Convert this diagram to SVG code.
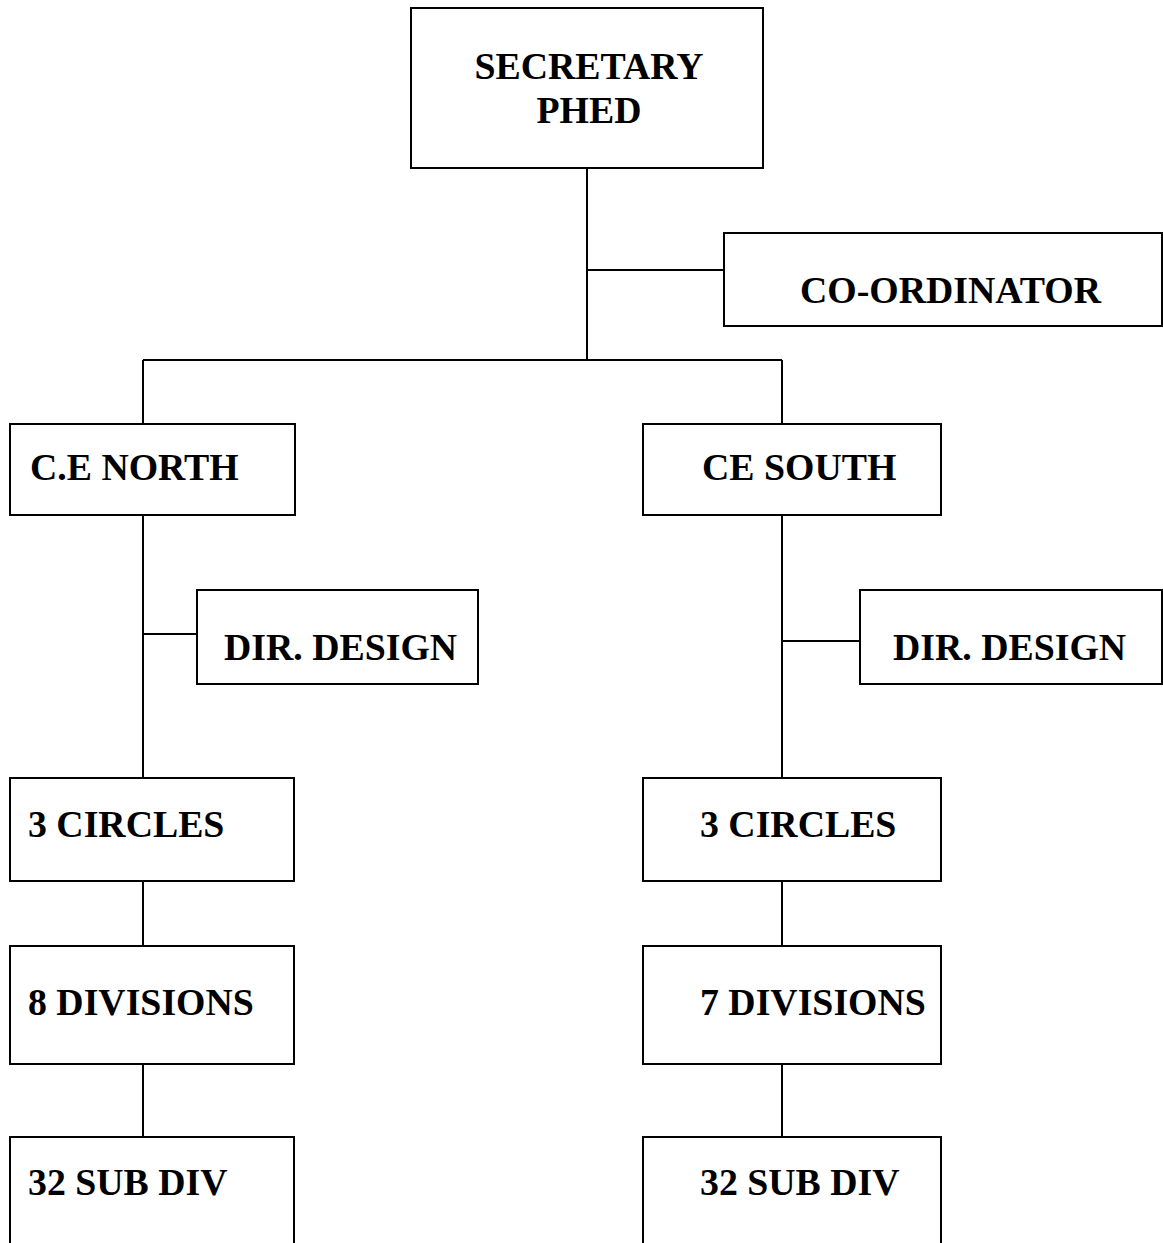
<svg xmlns="http://www.w3.org/2000/svg" width="1163" height="1243" viewBox="0 0 1163 1243">
  <style>
    .box { fill: #ffffff; stroke: #000000; stroke-width: 2; }
    .link { fill: none; stroke: #000000; stroke-width: 2; }
    .label { font-family: "Liberation Serif", "Times New Roman", serif; font-weight: bold; font-size: 37.8px; fill: #000000; }
  </style>
  <rect width="1163" height="1243" fill="#ffffff"/>

  <g id="connectors">
    <path class="link" d="M587 168 V360"/>
    <path class="link" d="M587 270 H724"/>
    <path class="link" d="M143 360 H782"/>
    <path class="link" d="M143 360 V424"/>
    <path class="link" d="M782 360 V424"/>
    <path class="link" d="M143 515 V778"/>
    <path class="link" d="M143 634 H197"/>
    <path class="link" d="M782 515 V778"/>
    <path class="link" d="M782 641 H860"/>
    <path class="link" d="M143 881 V946"/>
    <path class="link" d="M782 881 V946"/>
    <path class="link" d="M143 1064 V1137"/>
    <path class="link" d="M782 1064 V1137"/>
  </g>

  <g id="secretary">
    <rect class="box" x="411" y="8" width="352" height="160"/>
    <text class="label" x="589" y="79" text-anchor="middle">SECRETARY</text>
    <text class="label" x="589" y="123" text-anchor="middle">PHED</text>
  </g>

  <g id="coordinator">
    <rect class="box" x="724" y="233" width="438" height="93"/>
    <text class="label" x="800" y="303">CO-ORDINATOR</text>
  </g>

  <g id="ce-north">
    <rect class="box" x="10" y="424" width="285" height="91"/>
    <text class="label" x="30" y="480">C.E NORTH</text>
  </g>

  <g id="ce-south">
    <rect class="box" x="643" y="424" width="298" height="91"/>
    <text class="label" x="702" y="480">CE SOUTH</text>
  </g>

  <g id="dir-design-north">
    <rect class="box" x="197" y="590" width="281" height="94"/>
    <text class="label" x="224" y="660">DIR. DESIGN</text>
  </g>

  <g id="dir-design-south">
    <rect class="box" x="860" y="590" width="302" height="94"/>
    <text class="label" x="893" y="660">DIR. DESIGN</text>
  </g>

  <g id="circles-north">
    <rect class="box" x="10" y="778" width="284" height="103"/>
    <text class="label" x="28" y="837">3 CIRCLES</text>
  </g>

  <g id="circles-south">
    <rect class="box" x="643" y="778" width="298" height="103"/>
    <text class="label" x="700" y="837">3 CIRCLES</text>
  </g>

  <g id="divisions-north">
    <rect class="box" x="10" y="946" width="284" height="118"/>
    <text class="label" x="28" y="1015">8 DIVISIONS</text>
  </g>

  <g id="divisions-south">
    <rect class="box" x="643" y="946" width="298" height="118"/>
    <text class="label" x="700" y="1015">7 DIVISIONS</text>
  </g>

  <g id="subdiv-north">
    <rect class="box" x="10" y="1137" width="284" height="120"/>
    <text class="label" x="28" y="1195">32 SUB DIV</text>
  </g>

  <g id="subdiv-south">
    <rect class="box" x="643" y="1137" width="298" height="120"/>
    <text class="label" x="700" y="1195">32 SUB DIV</text>
  </g>
</svg>
